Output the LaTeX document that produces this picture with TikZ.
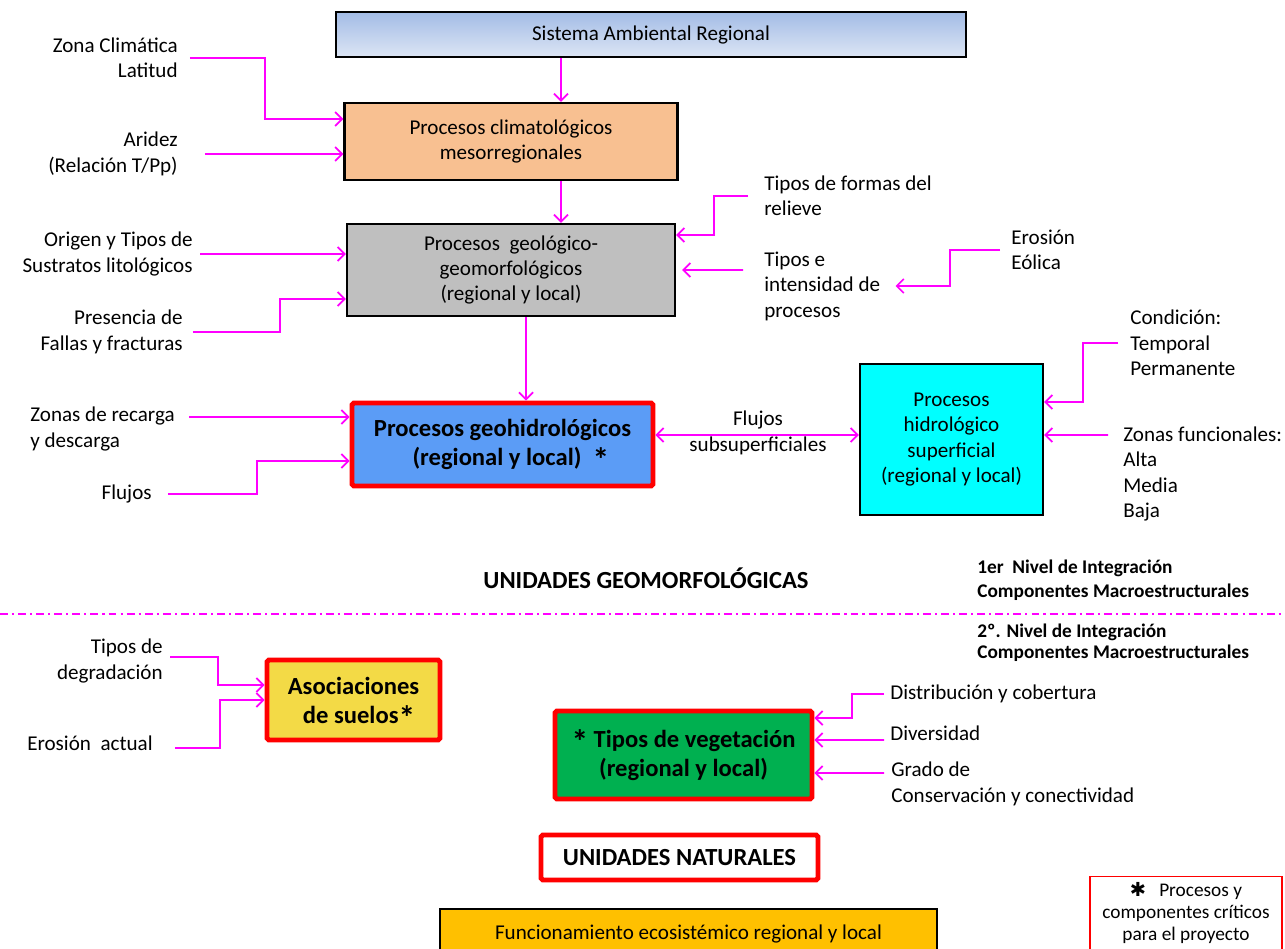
\documentclass[tikz,border=0pt]{standalone}
\usepackage{fontspec}
\setmainfont{Carlito}
\newfontfamily\djv{DejaVu Sans}
\usetikzlibrary{arrows.meta}

\definecolor{mag}{HTML}{FF00FF}
\definecolor{critred}{HTML}{FF0000}
\definecolor{sartop}{HTML}{A3BCE6}
\definecolor{sarbot}{HTML}{DCE5F4}
\definecolor{climfill}{HTML}{F8C091}
\definecolor{geofill}{HTML}{BFBFBF}
\definecolor{hidrofill}{HTML}{5B9CF6}
\definecolor{supfill}{HTML}{00FFFF}
\definecolor{suelofill}{HTML}{F3DA46}
\definecolor{vegfill}{HTML}{00B050}
\definecolor{funcfill}{HTML}{FFC000}

\newcommand{\crit}{\raisebox{-3.5pt}[0pt][0pt]{\fontsize{19}{16}\selectfont*}}

\tikzset{
  box/.style={draw=black, line width=1.3pt, align=center, font=\fontsize{12}{14.5}\selectfont},
  critbox/.style={draw=critred, line width=2.8pt, rounded corners=1pt, align=center, font=\fontsize{14}{16.5}\selectfont\bfseries},
  lbl/.style={inner sep=0pt, font=\fontsize{12}{14.5}\selectfont},
  niv/.style={inner sep=0pt, align=left, font=\fontsize{11}{13.5}\selectfont\bfseries},
  arr/.style={->, >={Straight Barb[length=4pt,width=8pt]}, draw=mag, line width=1pt},
  sepline/.style={draw=mag, line width=1.2pt, dash pattern=on 4.5pt off 2.3pt on 1.2pt off 2.3pt},
}

\begin{document}
\begin{tikzpicture}[x=0.02cm,y=-0.02cm]
  \useasboundingbox (0,0) rectangle (1285,949);

  % cajas
  \node (sar) at (651,34.5) [box, top color=sartop, bottom color=sarbot, minimum width=12.6cm, minimum height=0.9cm]{Sistema Ambiental Regional};
  \node (clim) at (511,141.5) [box, fill=climfill, minimum width=6.66cm, minimum height=1.54cm]{Procesos climatológicos\\mesorregionales};
  \node (geo) at (511,270) [box, fill=geofill, minimum width=6.56cm, minimum height=1.84cm]{Procesos\ \ geológico-\\geomorfológicos\\(regional y local)};
  \node (hidro) at (502.5,444.5) [critbox, fill=hidrofill, minimum width=6.02cm, minimum height=1.66cm]{Procesos geohidrológicos\\\ \ \ (regional y local)\ \ \crit};
  \node (sup) at (951.5,439.5) [box, fill=supfill, minimum width=3.66cm, minimum height=3.02cm]{Procesos\\hidrológico\\superficial\\(regional y local)};

  \node (suelos) at (353.5,700) [critbox, fill=suelofill, minimum width=3.46cm, minimum height=1.6cm]{Asociaciones\\\ \ de suelos\crit};
  \node (veg) at (683.5,755) [critbox, fill=vegfill, minimum width=5.14cm, minimum height=1.76cm]{\crit\ Tipos de vegetación\\(regional y local)};
  \node (unat) at (679.5,857.5) [critbox, fill=white, minimum width=5.54cm, minimum height=0.9cm]{UNIDADES NATURALES};
  \node (func) at (688.5,934) [box, fill=funcfill, minimum width=9.94cm, minimum height=1cm]{Funcionamiento ecosistémico regional y local};
  \node (leg) at (1186,913) [draw=critred, line width=0.8pt, minimum width=3.84cm, minimum height=1.44cm, align=center, font=\fontsize{11}{12.5}\selectfont]{{\djv\bfseries ✱}\ \ \ Procesos y\\componentes críticos\\para el proyecto};

  % textos
  \node (zona) at (178,58) [lbl, anchor=east, align=right]{Zona Climática\\Latitud};
  \node (aridez) at (178,154) [lbl, anchor=east, align=right]{Aridez\\(Relación T/Pp)};
  \node (origen) at (193,254) [lbl, anchor=east, align=right]{Origen y Tipos de\\Sustratos litológicos};
  \node (presencia) at (183,332) [lbl, anchor=east, align=right]{Presencia de\\Fallas y fracturas};
  \node (formas) at (764,196) [lbl, anchor=west, align=left]{Tipos de formas del\\relieve};
  \node (tipose) at (764,286) [lbl, anchor=west, align=left]{Tipos e\\intensidad de\\procesos};
  \node (erosion) at (1011,250) [lbl, anchor=west, align=left]{Erosión\\Eólica};
  \node (cond) at (1130,343) [lbl, anchor=west, align=left]{Condición:\\Temporal\\Permanente};
  \node (zfun) at (1123,474) [lbl, anchor=west, align=left]{Zonas funcionales:\\Alta\\Media\\Baja};
  \node (fsub) at (758,433) [lbl, align=center]{Flujos\\subsuperficiales};
  \node (zrec) at (30,429) [lbl, anchor=west, align=left]{Zonas de recarga\\y descarga};
  \node (flujos) at (152,494) [lbl, anchor=east]{Flujos};

  \node (ugeo) at (646,578) [inner sep=0pt, font=\fontsize{14}{16}\selectfont\bfseries]{UNIDADES GEOMORFOLÓGICAS};
  \node (niv1) at (977,580) [niv, anchor=west]{1er\ \ Nivel de Integración\\Componentes Macroestructurales};
  \node (niv2) at (977,643) [niv, anchor=west, font=\fontsize{11}{12}\selectfont\bfseries]{2º. Nivel de Integración\\Componentes Macroestructurales};

  \node (degr) at (163,661) [lbl, anchor=east, align=right]{Tipos de\\degradación};
  \node (erosact) at (153,743) [lbl, anchor=east]{Erosión\ \ actual};
  \node (distr) at (890,694) [lbl, anchor=west]{Distribución y cobertura};
  \node (divers) at (890,733) [lbl, anchor=west]{Diversidad};
  \node (grado) at (891,784) [lbl, anchor=west, align=left]{Grado de\\Conservación y conectividad};

  % separador de niveles
  \coordinate (sepL) at (0,614);
  \coordinate (sepR) at (1285,614);
  \draw[sepline] (sepL) -- (sepR);

  % flechas
  \draw[arr] ([xshift=-1.8cm]sar.south) -- ([xshift=1cm]clim.north);
  \draw[arr] ([xshift=1cm]clim.south) -- ([xshift=1cm]geo.north);
  \draw[arr] ([xshift=0.3cm]geo.south) -- ([xshift=0.47cm]hidro.north);

  \draw[arr] ([xshift=0.24cm]zona.east) -- ++(75,0) |- ([yshift=0.45cm]clim.west);
  \draw[arr] ([xshift=0.54cm]aridez.east) -- (aridez.east -| clim.west);
  \draw[arr] ([xshift=0.14cm]origen.east) -- (origen.east -| geo.west);
  \draw[arr] ([xshift=0.2cm]presencia.east) -- ++(87,0) |- ([yshift=-0.58cm]geo.west);

  \draw[arr] ([xshift=-0.32cm]formas.west) -- ++(-34,0) |- ([yshift=0.7cm]geo.east);
  \draw[arr, shorten >=0.12cm] ([xshift=-0.42cm,yshift=0.32cm]tipose.west) -- (geo.east);
  \draw[arr] ([xshift=-0.22cm]erosion.west) -- ++(-50,0) |- ([xshift=0.3cm]tipose.east);

  \draw[arr] ([xshift=-0.24cm]cond.west) -- ++(-35,0) |- ([yshift=0.75cm]sup.east);
  \draw[arr] ([xshift=-0.3cm,yshift=0.78cm]zfun.west) -- ([yshift=0.09cm]sup.east);
  \draw[arr, <->] ([yshift=0.19cm]hidro.east) -- ([yshift=0.09cm]sup.west);

  \draw[arr] ([xshift=0.28cm,yshift=0.24cm]zrec.east) -- ([yshift=0.55cm]hidro.west);
  \draw[arr] ([xshift=0.32cm]flujos.east) -- ++(89,0) |- ([yshift=-0.33cm]hidro.west);

  \draw[arr] ([xshift=0.14cm,yshift=0.08cm]degr.east) -- ++(48,0) |- ([yshift=0.3cm]suelos.west);
  \draw[arr] ([xshift=0.44cm,yshift=-0.1cm]erosact.east) -- ++(45,0) |- (suelos.west);

  \draw[arr] ([xshift=-0.12cm]distr.west) -- ++(-32,0) |- ([yshift=0.74cm]veg.east);
  \draw[arr] ([xshift=-0.12cm,yshift=-0.14cm]divers.west) -- ([yshift=0.3cm]veg.east);
  \draw[arr] ([xshift=-0.14cm,yshift=0.22cm]grado.west) -- ([yshift=-0.36cm]veg.east);

\end{tikzpicture}
\end{document}
